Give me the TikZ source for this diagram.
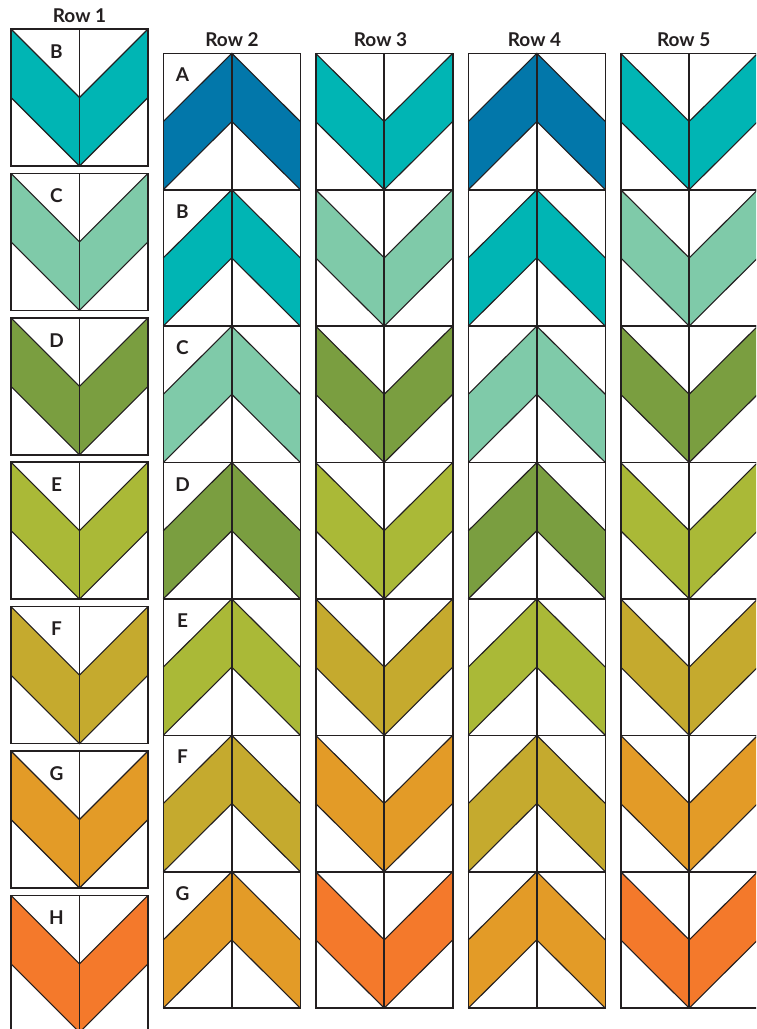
\documentclass[tikz,border=0pt]{standalone}
\usepackage{fontspec}
\setmainfont{Lato}
\definecolor{cA}{HTML}{0277AA}
\definecolor{cB}{HTML}{00B5B4}
\definecolor{cC}{HTML}{7FCAA9}
\definecolor{cD}{HTML}{7A9E40}
\definecolor{cE}{HTML}{AAB937}
\definecolor{cF}{HTML}{C5AA2E}
\definecolor{cG}{HTML}{E39B27}
\definecolor{cH}{HTML}{F4792B}
\definecolor{ink}{HTML}{231F20}
\tikzset{
  edge/.style={draw=ink,line width=1.6pt,line join=miter},
  thin/.style={draw=ink,line width=1.1pt},
  rowlbl/.style={font=\fontsize{19}{19}\selectfont\bfseries,text=ink,inner sep=0pt},
  blklbl/.style={font=\fontsize{19}{19}\selectfont\bfseries,text=ink,inner sep=0pt}
}
% down chevron block: x, ytop, height, colour
\newcommand\blkdown[4]{%
\begin{scope}[shift={(#1,#2)}]
 \fill[#4] (0,0) -- (68.5,#3/2) -- (137,0) -- (137,#3/2) -- (68.5,#3) -- (0,#3/2) -- cycle;
 \draw[thin] (0,0) -- (68.5,#3/2) -- (137,0);
 \draw[thin] (0,#3/2) -- (68.5,#3) -- (137,#3/2);
 \draw[edge] (68.5,0) -- (68.5,#3);
 \draw[edge] (0,0) rectangle (137,#3);
\end{scope}}
% up chevron block
\newcommand\blkup[4]{%
\begin{scope}[shift={(#1,#2)}]
 \fill[#4] (0,#3/2) -- (68.5,0) -- (137,#3/2) -- (137,#3) -- (68.5,#3/2) -- (0,#3) -- cycle;
 \draw[thin] (0,#3/2) -- (68.5,0) -- (137,#3/2);
 \draw[thin] (0,#3) -- (68.5,#3/2) -- (137,#3);
 \draw[edge] (68.5,0) -- (68.5,#3);
 \draw[edge] (0,0) rectangle (137,#3);
\end{scope}}
\begin{document}
\begin{tikzpicture}[x=1pt,y=-1pt]
\useasboundingbox (0,0) rectangle (756,1029);
\clip (0,0) rectangle (756,1029);
\fill[white] (0,0) rectangle (756,1029);
% Row 1
\foreach \c [count=\i from 0] in {B,C,D,E,F,G,H} {
  \blkdown{11}{29+\i*144.4}{137}{c\c}
  \node[blklbl] (r1\c) at (56.5,51.5+\i*144.4) {\c};
}
% Rows 2-5
\foreach \c [count=\i from 0] in {A,B,C,D,E,F,G} {
  \blkup{163.3}{53.3+\i*136.4}{136.4}{c\c}
  \node[blklbl] (r2\c) at (182.5,75+\i*136.4) {\c};
  \blkup{468.3}{53.3+\i*136.4}{136.4}{c\c}
}
\foreach \c [count=\i from 0] in {B,C,D,E,F,G,H} {
  \blkdown{315.7}{53.3+\i*136.4}{136.4}{c\c}
  \blkdown{620.7}{53.3+\i*136.4}{136.4}{c\c}
}
\node[rowlbl] (row1) at (79.5,16) {Row 1};
\node[rowlbl] (row2) at (232,40) {Row 2};
\node[rowlbl] (row3) at (380.5,40) {Row 3};
\node[rowlbl] (row4) at (534.5,40) {Row 4};
\node[rowlbl] (row5) at (683.7,40) {Row 5};
\end{tikzpicture}
\end{document}
